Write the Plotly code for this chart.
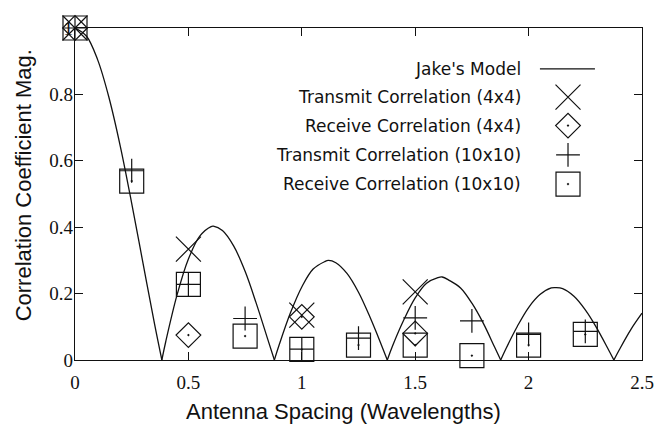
import plotly.graph_objects as go

# Jake's model curve
jake_x = [0, 0.05, 0.10, 0.15, 0.20, 0.25, 0.30, 0.35, 0.383, 0.40, 0.45, 0.50, 0.55, 0.60, 0.61,
          0.65, 0.70, 0.75, 0.80, 0.85, 0.879, 0.90, 0.95, 1.00, 1.05, 1.10, 1.117, 1.15, 1.20,
          1.25, 1.30, 1.35, 1.377, 1.40, 1.45, 1.50, 1.55, 1.60, 1.619, 1.65, 1.70, 1.75, 1.80,
          1.85, 1.877, 1.90, 1.95, 2.00, 2.05, 2.10, 2.12, 2.15, 2.20, 2.25, 2.30, 2.35, 2.376,
          2.40, 2.45, 2.50]
jake_y = [1.0, 0.976, 0.904, 0.790, 0.643, 0.472, 0.291, 0.111, 0.0, 0.055, 0.196, 0.304, 0.373,
          0.402, 0.403, 0.390, 0.343, 0.267, 0.169, 0.062, 0.0, 0.045, 0.142, 0.220, 0.274, 0.296,
          0.300, 0.293, 0.260, 0.204, 0.130, 0.047, 0.0, 0.042, 0.121, 0.187, 0.231, 0.248, 0.250,
          0.240, 0.217, 0.171, 0.111, 0.039, 0.0, 0.034, 0.101, 0.158, 0.197, 0.217, 0.218, 0.215,
          0.192, 0.151, 0.097, 0.034, 0.0, 0.031, 0.091, 0.141]

tx4_x = [0, 0.5, 1.0, 1.5]
tx4_y = [1.0, 0.334, 0.135, 0.205]

rx4_x = [0, 0.5, 1.0, 1.5]
rx4_y = [1.0, 0.075, 0.13, 0.080]

tx10_x = [0, 0.25, 0.5, 0.75, 1.0, 1.25, 1.5, 1.75, 2.0, 2.25]
tx10_y = [1.0, 0.57, 0.228, 0.125, 0.033, 0.066, 0.127, 0.118, 0.077, 0.086]

rx10_x = [0, 0.25, 0.5, 0.75, 1.0, 1.25, 1.5, 1.75, 2.0, 2.25]
rx10_y = [1.0, 0.539, 0.228, 0.072, 0.032, 0.045, 0.045, 0.013, 0.045, 0.077]

x_ticks = [0, 0.5, 1, 1.5, 2, 2.5]
x_ticktext = ["0", "0.5", "1", "1.5", "2", "2.5"]
y_ticks = [0, 0.2, 0.4, 0.6, 0.8, 1]
y_ticktext = ["0", "0.2", "0.4", "0.6", "0.8", "1"]

legend_names = ["Jake's Model", "Transmit Correlation (4x4)", "Receive Correlation (4x4)",
                "Transmit Correlation (10x10)", "Receive Correlation (10x10)"]

BLACK = "#111111"
SERIF = "Liberation Serif, DejaVu Serif, serif"
SANS = "Liberation Sans, Arial, sans-serif"

sym = {
    "x": dict(symbol="x-thin-open", size=25),
    "d": dict(symbol="diamond-open-dot", size=19),
    "p": dict(symbol="cross-thin-open", size=17),
    "s": dict(symbol="square-open-dot", size=24),
}

fig = go.Figure()

# split the curve into arches at its zeros so each arch can be smoothed separately
seg_x, seg_y = [], []
for i, (xv, yv) in enumerate(zip(jake_x, jake_y)):
    seg_x.append(xv)
    seg_y.append(yv)
    if yv == 0 and 0 < i < len(jake_x) - 1:
        seg_x += [None, xv]
        seg_y += [None, yv]
fig.add_trace(go.Scatter(x=seg_x, y=seg_y, mode="lines", connectgaps=False,
                         line=dict(color=BLACK, width=1.3, shape="spline", smoothing=1.0),
                         showlegend=False, cliponaxis=True))

for xs, ys, k in [(rx10_x, rx10_y, "s"), (tx10_x, tx10_y, "p"), (rx4_x, rx4_y, "d"), (tx4_x, tx4_y, "x")]:
    fig.add_trace(go.Scatter(x=xs, y=ys, mode="markers", cliponaxis=False, showlegend=False,
                             marker=dict(symbol=sym[k]["symbol"], size=sym[k]["size"], color=BLACK,
                                         line=dict(color=BLACK, width=1.2))))

# custom legend (text on the left, sample on the right)
leg_rows = [0.877, 0.792, 0.706, 0.618, 0.530]
text_x = 0.790
sample_x = 0.8695
for name, yy in zip(legend_names, leg_rows):
    fig.add_annotation(x=text_x, y=yy, xref="paper", yref="paper", text=name, showarrow=False,
                       xanchor="right", yanchor="middle",
                       font=dict(family="DejaVu Sans, sans-serif", size=17, color=BLACK))
fig.add_shape(type="line", xref="paper", yref="paper", x0=0.820, x1=0.917,
              y0=leg_rows[0], y1=leg_rows[0], line=dict(color=BLACK, width=1.3))
for k, yy in zip(["x", "d", "p", "s"], leg_rows[1:]):
    fig.add_trace(go.Scatter(x=[sample_x], y=[yy], xaxis="x2", yaxis="y2", mode="markers",
                             showlegend=False, cliponaxis=False,
                             marker=dict(symbol=sym[k]["symbol"], size=sym[k]["size"], color=BLACK,
                                         line=dict(color=BLACK, width=1.2))))

# axis titles
fig.add_annotation(x=0.473, y=0, xref="paper", yref="paper", yshift=-51, showarrow=False,
                   text="Antenna Spacing (Wavelengths)", xanchor="center", yanchor="middle",
                   font=dict(family=SANS, size=22, color=BLACK))
fig.add_annotation(x=0, y=0.526, xref="paper", yref="paper", xshift=-52, showarrow=False,
                   text="Correlation Coefficient Mag.", textangle=-90, xanchor="center",
                   yanchor="middle", font=dict(family=SANS, size=22, color=BLACK))

axis_common = dict(showline=True, linecolor=BLACK, linewidth=1.3, mirror="ticks",
                   ticks="inside", ticklen=8, tickcolor=BLACK, tickwidth=1,
                   showgrid=False, zeroline=False, ticklabeloverflow="allow",
                   tickfont=dict(family=SERIF, size=19, color=BLACK))

fig.update_layout(
    width=656, height=416,
    margin=dict(l=67, r=22, t=10, b=64),
    paper_bgcolor="white", plot_bgcolor="white",
    showlegend=False,
    xaxis=dict(range=[0, 2.5], tickvals=x_ticks, ticktext=x_ticktext, ticklabelstandoff=5,
               **axis_common),
    yaxis=dict(range=[0, 1], tickvals=y_ticks, ticktext=y_ticktext, ticklabelstandoff=-3,
               **axis_common),
    xaxis2=dict(range=[0, 1], overlaying="x", visible=False),
    yaxis2=dict(range=[0, 1], overlaying="y", visible=False),
)

fig.write_html("out.html")
